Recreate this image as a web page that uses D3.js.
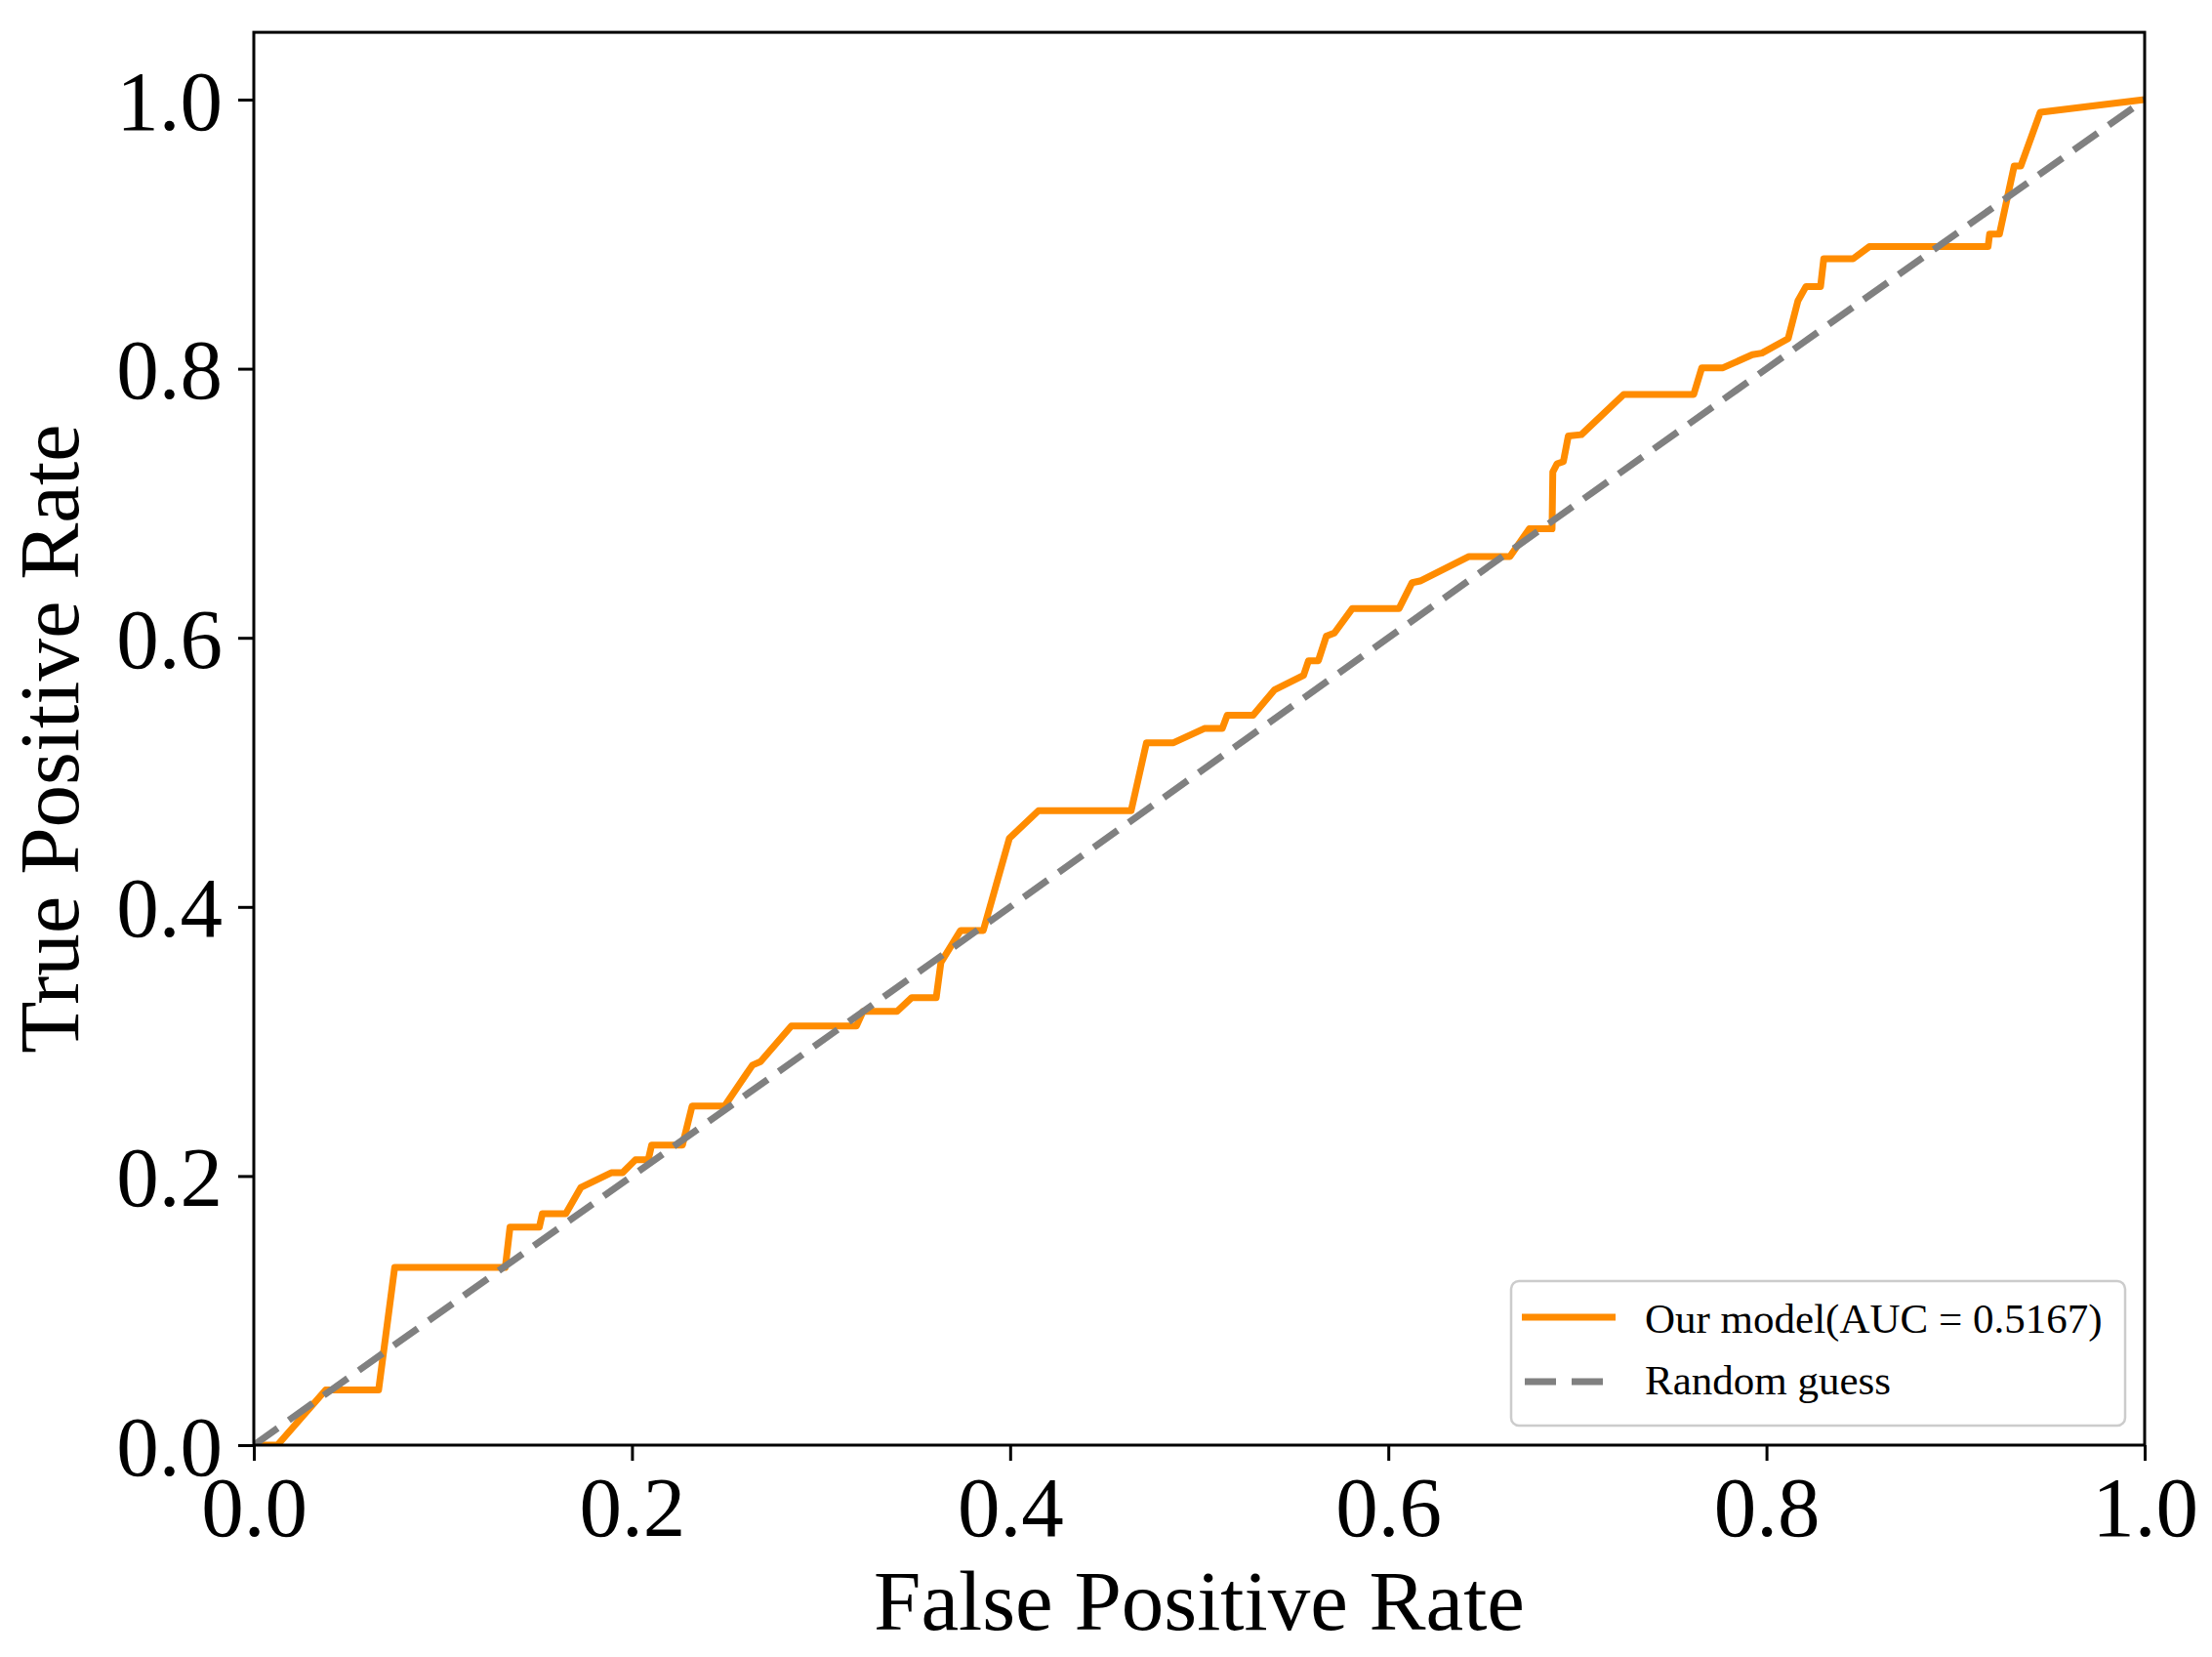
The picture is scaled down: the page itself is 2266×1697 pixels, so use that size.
<!DOCTYPE html>
<html>
<head>
<meta charset="utf-8">
<script src="https://cdn.jsdelivr.net/npm/d3@7/dist/d3.min.js"></script>
<style>
  body { margin: 0; background: #fff; }
  text { font-family: "Liberation Serif", "Times New Roman", serif; fill: #000; }
</style>
</head>
<body>
<script>
// ROC curve points
var fpr = [0, 0.0125, 0.038, 0.066, 0.0745, 0.133, 0.1355, 0.151, 0.1526, 0.165,
  0.173, 0.181, 0.189, 0.195, 0.2018, 0.2086, 0.2104, 0.2267, 0.2318, 0.249,
  0.2637, 0.268, 0.2843, 0.3187, 0.3222, 0.3402, 0.348, 0.3609, 0.3634, 0.3738,
  0.3858, 0.3996, 0.415, 0.464, 0.4721, 0.4864, 0.5027, 0.5122, 0.5148, 0.5285,
  0.5397, 0.5552, 0.5578, 0.563, 0.5672, 0.5715, 0.581, 0.6057, 0.6126, 0.6168,
  0.6427, 0.6643, 0.6746, 0.6866, 0.687, 0.6892, 0.6926, 0.6952, 0.7021, 0.7245,
  0.7615, 0.7658, 0.777, 0.7925, 0.7976, 0.8115, 0.8166, 0.8209, 0.8286, 0.8303,
  0.8458, 0.8544, 0.9172, 0.918, 0.9232, 0.931, 0.9345, 0.9448, 1.0];
var tpr = [0, 0, 0.041, 0.041, 0.132, 0.132, 0.162, 0.162, 0.172, 0.172,
  0.1915, 0.197, 0.2024, 0.2024, 0.212, 0.212, 0.223, 0.223, 0.252, 0.252,
  0.2824, 0.285, 0.3115, 0.3115, 0.3224, 0.3224, 0.3326, 0.3326, 0.3588, 0.3825,
  0.3825, 0.451, 0.4715, 0.4715, 0.522, 0.522, 0.5326, 0.5326, 0.5425, 0.5425,
  0.5612, 0.5721, 0.583, 0.583, 0.6012, 0.6036, 0.6218, 0.6218, 0.641, 0.6422,
  0.6604, 0.6604, 0.681, 0.681, 0.7233, 0.7293, 0.731, 0.75, 0.751, 0.7808,
  0.7808, 0.8007, 0.8007, 0.8104, 0.8116, 0.8224, 0.8503, 0.8611, 0.8611, 0.8817,
  0.8817, 0.8907, 0.8907, 0.9, 0.9, 0.9507, 0.9507, 0.9906, 1.0];

var guessX = [0, 1];
var guessY = [0, 1];

var xTicks = [0, 0.2, 0.4, 0.6, 0.8, 1.0];
var yTicks = [0, 0.2, 0.4, 0.6, 0.8, 1.0];
var legendLabels = ["Our model(AUC = 0.5167)", "Random guess"];

var w = 2266, h = 1697;
var left = 260, right = 2197, bottom = 1480, unitH = 1378;

var svg = d3.select("body").append("svg").attr("width", w).attr("height", h);

var x = d3.scaleLinear().domain([0, 1]).range([left, right]);
var y = d3.scaleLinear().domain([0, 1.05]).range([bottom, bottom - 1.05 * unitH]);

svg.append("clipPath").attr("id", "plotclip")
  .append("rect")
  .attr("x", x(0)).attr("y", y(1.05))
  .attr("width", x(1) - x(0)).attr("height", y(0) - y(1.05));

var line = d3.line()
  .x(function(d) { return x(d[0]); })
  .y(function(d) { return y(d[1]); });

var roc = fpr.map(function(v, i) { return [v, tpr[i]]; });
var guess = guessX.map(function(v, i) { return [v, guessY[i]]; });

var plot = svg.append("g").attr("clip-path", "url(#plotclip)");

plot.append("path").datum(roc)
  .attr("d", line)
  .attr("fill", "none")
  .attr("stroke", "#ff8c00")
  .attr("stroke-width", 7)
  .attr("stroke-linejoin", "round");

plot.append("path").datum(guess)
  .attr("d", line)
  .attr("fill", "none")
  .attr("stroke", "#808080")
  .attr("stroke-width", 7)
  .attr("stroke-dasharray", "30,14");

//axes
var xAxis = svg.append("g").attr("transform", "translate(0," + bottom + ")")
  .call(d3.axisBottom(x).tickValues(xTicks).tickFormat(d3.format(".1f"))
    .tickSize(16).tickSizeOuter(0));
xAxis.select(".domain").remove();
xAxis.selectAll(".tick line").attr("stroke", "#000").attr("stroke-width", 3);
xAxis.selectAll(".tick text")
  .attr("y", 93).attr("dy", 0)
  .attr("font-size", 87)
  .attr("font-family", "Liberation Serif");

var yAxis = svg.append("g").attr("transform", "translate(" + left + ",0)")
  .call(d3.axisLeft(y).tickValues(yTicks).tickFormat(d3.format(".1f"))
    .tickSize(16).tickSizeOuter(0));
yAxis.select(".domain").remove();
yAxis.selectAll(".tick line").attr("stroke", "#000").attr("stroke-width", 3);
yAxis.selectAll(".tick text")
  .attr("x", -32).attr("dy", 30)
  .attr("font-size", 87)
  .attr("font-family", "Liberation Serif");

// frame
svg.append("rect")
  .attr("x", x(0)).attr("y", y(1.05))
  .attr("width", x(1) - x(0)).attr("height", y(0) - y(1.05))
  .attr("fill", "none").attr("stroke", "#000").attr("stroke-width", 3);

// axis labels
svg.append("text")
  .attr("x", (x(0) + x(1)) / 2).attr("y", 1669)
  .attr("text-anchor", "middle").attr("font-size", 87)
  .text("False Positive Rate");

svg.append("text")
  .attr("transform", "translate(80," + (y(0) + y(1.05)) / 2 + ") rotate(-90)")
  .attr("text-anchor", "middle").attr("font-size", 87)
  .text("True Positive Rate");

// legend
var lg = svg.append("g");
lg.append("rect")
  .attr("x", 1548).attr("y", 1312).attr("width", 629).attr("height", 148)
  .attr("rx", 8).attr("ry", 8)
  .attr("fill", "#fff").attr("fill-opacity", 0.8)
  .attr("stroke", "#cccccc").attr("stroke-width", 2.5);

lg.append("line")
  .attr("x1", 1559).attr("x2", 1655).attr("y1", 1349).attr("y2", 1349)
  .attr("stroke", "#ff8c00").attr("stroke-width", 7);
lg.append("line")
  .attr("x1", 1562).attr("x2", 1643).attr("y1", 1415).attr("y2", 1415)
  .attr("stroke", "#808080").attr("stroke-width", 7)
  .attr("stroke-dasharray", "32,16");

lg.selectAll("text.leg").data(legendLabels).enter()
  .append("text")
  .attr("class", "leg")
  .attr("x", 1685)
  .attr("y", function(d, i) { return 1365 + i * 63; })
  .attr("font-size", 43)
  .text(function(d) { return d; });
</script>
</body>
</html>
